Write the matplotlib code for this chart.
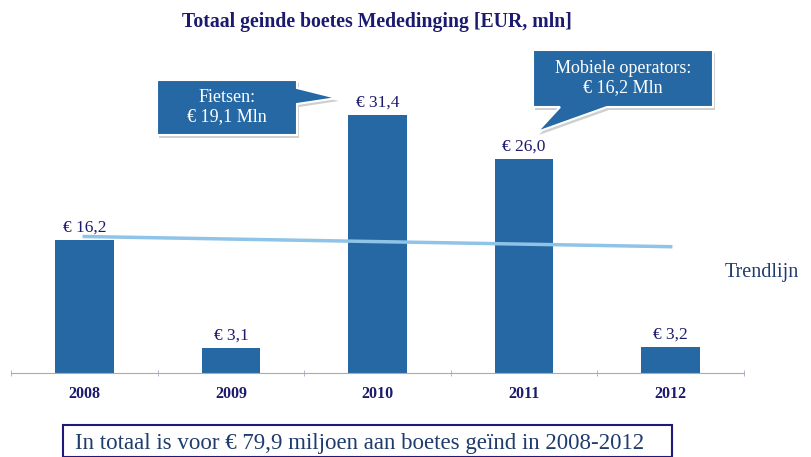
import numpy as np
import matplotlib
matplotlib.use("Agg")
import matplotlib.pyplot as plt
from matplotlib.patches import Polygon, Rectangle

# data
jaren = ["2008", "2009", "2010", "2011", "2012"]
boetes = [16.2, 3.1, 31.4, 26.0, 3.2]
labels = ["€ 16,2", "€ 3,1", "€ 31,4", "€ 26,0", "€ 3,2"]

titel = "Totaal geinde boetes Mededinging [EUR, mln]"
callout_fietsen = "Fietsen:\n€ 19,1 Mln"
callout_mobiel = "Mobiele operators:\n€ 16,2 Mln"
totaal_tekst = "In totaal is voor € 79,9 miljoen aan boetes geïnd in 2008-2012"

plt.rcParams['font.family'] = ['Liberation Serif', 'DejaVu Serif']

navy = "#1c1a6e"
bar_kleur = "#2568a3"
W, H = 811, 457

fig = plt.figure(figsize=(8.11, 4.57), dpi=100)
ax = fig.add_axes([11 / W, 84 / H, 733 / W, 296 / H])

x = np.arange(len(jaren))
ax.bar(x, boetes, width=0.4, color=bar_kleur, zorder=2)
for xi, v, lab in zip(x, boetes, labels):
    ax.annotate(lab, (xi, v), xytext=(0, 3), textcoords="offset points",
                ha="center", va="bottom", fontsize=12.5, color=navy)

# trendlijn (lineaire fit)
a, b = np.polyfit(x, boetes, 1)
ax.plot(x, a * x + b, color="#90c3e8", lw=2.5, zorder=3)

ax.set_xlim(-0.5, 4.5)
ax.set_ylim(0, 36)
ax.set_xticks(x)
ax.set_xticklabels(jaren, fontsize=11.5, color=navy, fontweight="bold")
ax.set_xticks(np.arange(-0.5, 5, 1), minor=True)
ax.tick_params(axis="x", which="major", length=0, pad=9)
ax.tick_params(axis="x", which="minor", length=5, direction="inout", color="#a8a8c4")
ax.set_yticks([])
for s in ["left", "right", "top"]:
    ax.spines[s].set_visible(False)
ax.spines["bottom"].set_color("#a8a8c4")

fig.text(377 / W, 1 - 22 / H, titel, ha="center", va="center",
         fontsize=14.2, fontweight="bold", color=navy)
fig.text(725 / W, 1 - 273 / H, "Trendlijn", ha="left", va="center",
         fontsize=14.5, color="#1f3c6e")


def px(pts):
    return [(p[0] / W, 1 - p[1] / H) for p in pts]


def callout(pts, tekst, cx, cy):
    schaduw = [(p[0] + 2, p[1] + 3) for p in pts]
    fig.add_artist(Polygon(px(schaduw), closed=True, transform=fig.transFigure,
                           facecolor="#b0b0b0", edgecolor="none", alpha=0.6))
    fig.add_artist(Polygon(px(pts), closed=True, transform=fig.transFigure,
                           facecolor=bar_kleur, edgecolor="white", lw=1.5))
    fig.text(cx / W, 1 - cy / H, tekst, ha="center", va="center",
             fontsize=13, color="white", linespacing=1.2)


callout([(157, 80), (297, 80), (297, 88), (337, 98), (297, 104),
         (297, 135), (157, 135)], callout_fietsen, 227, 107)
callout([(533, 50), (713, 50), (713, 107), (607, 107), (537, 132),
         (560, 107), (533, 107)], callout_mobiel, 623, 78)

# totaal kader
fig.add_artist(Rectangle((63 / W, 0), 609 / W, 32 / H, transform=fig.transFigure,
                         facecolor="white", edgecolor="#1f1a7a", lw=1.5))
fig.text(75 / W, 1 - 444 / H, totaal_tekst, ha="left", va="center",
         fontsize=16.5, color="#1f3c6e")

fig.savefig("out.png", dpi=100)
